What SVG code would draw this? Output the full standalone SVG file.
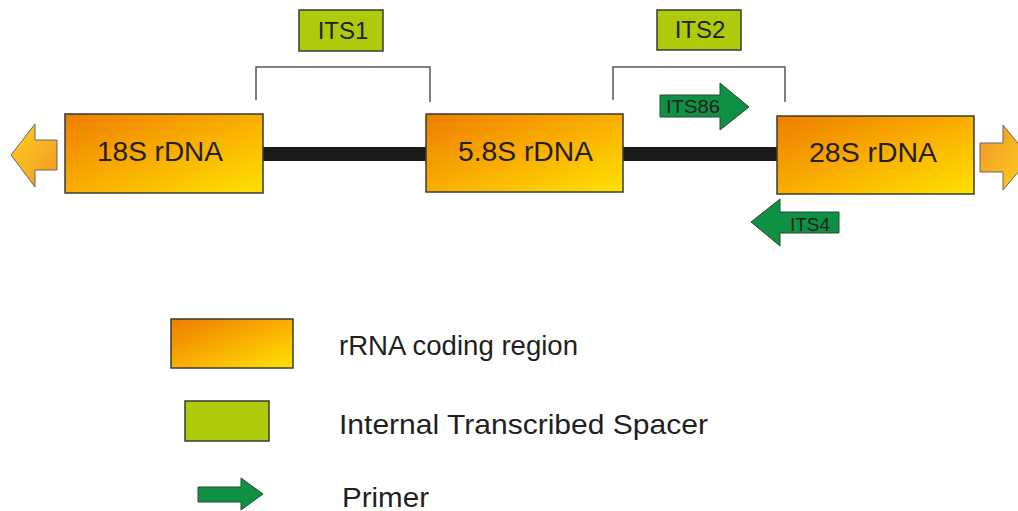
<svg xmlns="http://www.w3.org/2000/svg" width="1018" height="511" viewBox="0 0 1018 511">
<defs>
<linearGradient id="og" x1="0" y1="0" x2="1" y2="1">
<stop offset="0" stop-color="#ED7D00"/>
<stop offset="0.5" stop-color="#F9AE00"/>
<stop offset="1" stop-color="#FFE200"/>
</linearGradient>
<linearGradient id="ag" x1="0" y1="0" x2="1" y2="1">
<stop offset="0" stop-color="#FFD21A"/>
<stop offset="1" stop-color="#F0952A"/>
</linearGradient>
<linearGradient id="ag2" x1="0" y1="0" x2="1" y2="1">
<stop offset="0" stop-color="#F0952A"/>
<stop offset="1" stop-color="#FFD21A"/>
</linearGradient>
</defs>
<style>
.rb{fill:url(#og);stroke:#3a3a3a;stroke-width:1.5}
.its{fill:#AFCA0B;stroke:#3a3a3a;stroke-width:1.5}
.pr{fill:#0F9145;stroke:#2a4a2a;stroke-width:1}
.br{fill:none;stroke:#555;stroke-width:1.5}
.t{font-family:"Liberation Sans",Arial,sans-serif;fill:#231f20}
</style>
<g id="connectors">
<rect x="262" y="147" width="166" height="14" fill="#1a1a1a"/>
<rect x="622" y="147" width="157" height="14" fill="#1a1a1a"/>
<path class="br" d="M256 100 V67 H430 V102"/>
<path class="br" d="M613 100 V67 H785 V102"/>
</g>
<g id="arrow-left"><path d="M57 140 H35 V124 L11 155 L35 187 V170 H57 Z" fill="url(#ag)" stroke="#666" stroke-width="1"/></g>
<g id="arrow-right"><path d="M980 143 H1003 V125 L1030 158 L1003 190 V172 H980 Z" fill="url(#ag2)" stroke="#666" stroke-width="1"/></g>
<g id="n18S"><rect class="rb" x="65" y="114" width="198" height="79"/><text class="t" x="97" y="161" font-size="28" textLength="126" lengthAdjust="spacingAndGlyphs">18S rDNA</text></g>
<g id="n58S"><rect class="rb" x="426" y="114" width="197" height="78"/><text class="t" x="458" y="161" font-size="28" textLength="135" lengthAdjust="spacingAndGlyphs">5.8S rDNA</text></g>
<g id="n28S"><rect class="rb" x="777" y="116" width="197" height="78"/><text class="t" x="809" y="162" font-size="28" textLength="128" lengthAdjust="spacingAndGlyphs">28S rDNA</text></g>
<g id="ITS1"><rect class="its" x="299" y="10" width="84" height="41"/><text class="t" x="343" y="39" font-size="24" text-anchor="middle">ITS1</text></g>
<g id="ITS2"><rect class="its" x="657" y="10" width="84" height="40"/><text class="t" x="700" y="38" font-size="24" text-anchor="middle">ITS2</text></g>
<g id="ITS86"><path class="pr" d="M660 95 H720 V83 L749 107 L720 130 V117 H660 Z"/><text class="t" x="666" y="113" font-size="19" textLength="54" lengthAdjust="spacingAndGlyphs">ITS86</text></g>
<g id="ITS4"><path class="pr" d="M839 212 H780 V199 L751 222 L780 246 V233 H839 Z"/><text class="t" x="790" y="231" font-size="19" textLength="40" lengthAdjust="spacingAndGlyphs">ITS4</text></g>
<g id="legend-coding"><rect class="rb" x="171" y="319" width="122" height="49"/><text class="t" x="339" y="355" font-size="27.5" textLength="239" lengthAdjust="spacingAndGlyphs">rRNA coding region</text></g>
<g id="legend-its"><rect class="its" x="185" y="401" width="84" height="40"/><text class="t" x="339" y="434" font-size="27.5" textLength="369" lengthAdjust="spacingAndGlyphs">Internal Transcribed Spacer</text></g>
<g id="legend-primer"><path class="pr" d="M198 487 H241 V478 L263 494 L241 510 V502 H198 Z"/><text class="t" x="342" y="507" font-size="27.5" textLength="87" lengthAdjust="spacingAndGlyphs">Primer</text></g>
</svg>
